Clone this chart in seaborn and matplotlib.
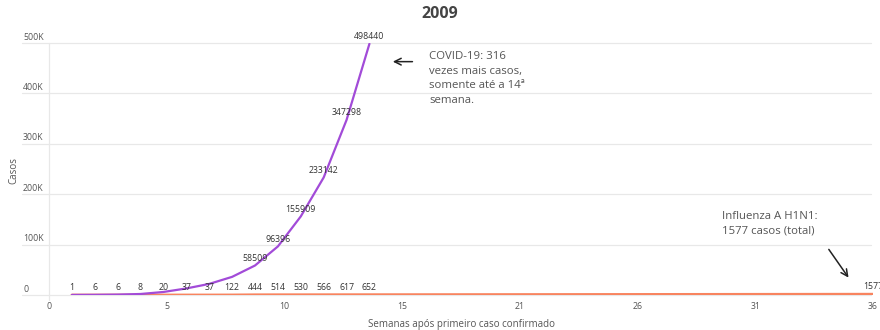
import numpy as np
import pandas as pd
import matplotlib
matplotlib.use("Agg")
import matplotlib.pyplot as plt
import matplotlib.transforms as mtransforms
import seaborn as sns

# ---- data ----
h1n1_weeks = [1, 2, 3, 4, 5, 6, 7, 8, 9, 10, 11, 12, 13, 14, 36]
h1n1_cases = [1, 6, 6, 8, 20, 37, 37, 122, 444, 514, 530, 566, 617, 652, 1577]
covid_weeks = [1, 2, 3, 4, 5, 6, 7, 8, 9, 10, 11, 12, 13, 14]
covid_cases = [100, 300, 800, 2000, 6000, 13000, 22000, 36000, 58509, 96396,
               155909, 233142, 347298, 498440]
covid_label_from = 9  # only these weeks carry a value label
y_ticks = [0, 100000, 200000, 300000, 400000, 500000]
y_tick_labels = ["0", "100K", "200K", "300K", "400K", "500K"]
x_max = 36
title = "2009"
covid_note = "COVID-19: 316\nvezes mais casos,\nsomente até a 14ª\nsemana."
h1n1_note = "Influenza A H1N1:\n1577 casos (total)"

series_names = ["H1N1", "COVID-19"]
colors = {"H1N1": "#f8845f", "COVID-19": "#a24bd8"}

df = pd.concat([
    pd.DataFrame({"semana": h1n1_weeks, "casos": h1n1_cases, "serie": "H1N1"}),
    pd.DataFrame({"semana": covid_weeks, "casos": covid_cases, "serie": "COVID-19"}),
])

sns.set_theme(style="white")
plt.rcParams["font.family"] = ["Open Sans", "DejaVu Sans"]

fig = plt.figure(figsize=(8.8, 3.3), dpi=100)
ax = fig.add_axes([49 / 880, 35 / 330, 824 / 880, 252 / 330])

for s in series_names:
    sub = df[df.serie == s]
    sns.lineplot(data=sub, x="semana", y="casos", ax=ax, color=colors[s],
                 linewidth=2.0 if s == "H1N1" else 1.6, legend=False,
                 zorder=3 if s == "COVID-19" else 2)

ax.set_xlim(0, x_max)
ax.set_ylim(0, 500000)
for sp in ax.spines.values():
    sp.set_visible(False)

grid_c = "#e8e8e8"
for yv in y_ticks:
    ax.axhline(yv, xmin=-27 / 824, xmax=0.997, color=grid_c, lw=0.9,
               clip_on=False, zorder=0)
ax.plot([0, 0], [-0.02, 1.0], transform=ax.get_xaxis_transform(),
        color=grid_c, lw=0.9, clip_on=False, zorder=0)

# y tick labels above the grid lines, left aligned
ax.set_yticks([])
trans = mtransforms.blended_transform_factory(ax.transAxes, ax.transData)
offs = mtransforms.offset_copy(trans, fig=fig, x=0, y=1.5, units="dots")
for yv, lab in zip(y_ticks, y_tick_labels):
    ax.text(-26 / 824, yv, lab, transform=offs, ha="left", va="bottom",
            fontsize=6.3, color="#555555")

# x ticks: evenly spaced, labels rounded
xt = np.linspace(0, x_max, 8)
ax.set_xticks(xt)
ax.set_xticklabels([str(int(round(v))) for v in xt], fontsize=6.3, color="#555555")
ax.tick_params(axis="x", length=0, pad=5)

ax.set_xlabel("Semanas após primeiro caso confirmado", fontsize=7, color="#555555",
              labelpad=6)
ax.set_ylabel("")
fig.text(14 / 880, 1 - 170 / 330, "Casos", rotation=90, ha="center", va="center",
         fontsize=7, color="#555555")

# value labels
for w, c in zip(h1n1_weeks, h1n1_cases):
    ax.annotate(str(c), (w, c), xytext=(0, 2.0), textcoords="offset points",
                ha="center", va="bottom", fontsize=6.3, color="#333333",
                annotation_clip=False)
for w, c in zip(covid_weeks, covid_cases):
    if w >= covid_label_from:
        ax.annotate(str(c), (w, c), xytext=(0, 2.0), textcoords="offset points",
                    ha="center", va="bottom", fontsize=6.3, color="#333333",
                    annotation_clip=False)

fig.text(0.5, 1 - 14 / 330, title, ha="center", va="center", fontsize=11.5,
         fontweight="bold", color="#444444")

# notes with arrows
ax.annotate("", xy=(14.9, 463000), xytext=(16.0, 463000),
            arrowprops=dict(arrowstyle="->", color="#222222", lw=1.1))
ax.text(16.6, 484000, covid_note, ha="left", va="top", fontsize=8.2,
        color="#555555", linespacing=1.45)
ax.annotate("", xy=(35.0, 30000), xytext=(34.0, 95000),
            arrowprops=dict(arrowstyle="->", color="#222222", lw=1.1),
            annotation_clip=False)
ax.text(29.4, 166000, h1n1_note, ha="left", va="top", fontsize=8.2,
        color="#555555", linespacing=1.45)

fig.savefig("out.png", dpi=100)
